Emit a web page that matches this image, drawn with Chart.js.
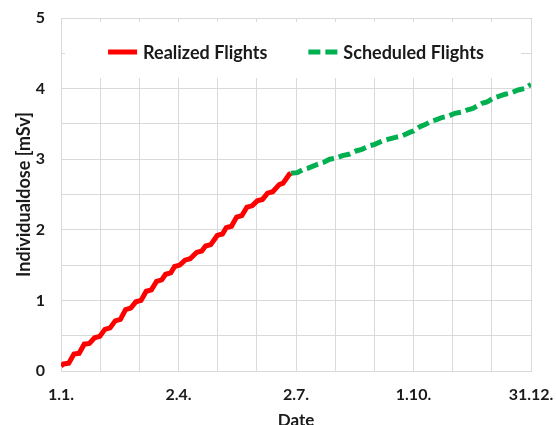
<!DOCTYPE html>
<html lang="en">
<head>
  <meta charset="UTF-8">
  <title>Individualdose</title>
  <script src="https://cdn.jsdelivr.net/npm/chart.js"></script>
  <style>
    html, body { margin: 0; padding: 0; background: #fff; }
    .contenedor { width: 556px; height: 425px; }
  </style>
</head>
<body>
  <div class="contenedor">
    <canvas id="graficoDosis"></canvas>
  </div>

  <script>
    // day of year (0 = 1.1.) and dose in mSv
    const realizedDay = [0, 2, 6, 10, 14, 18, 22, 26, 30, 34, 38, 42, 46, 50, 54, 58, 62, 66, 70, 74, 78,
      81, 85, 88, 92, 96, 100, 105, 109, 112, 116, 121, 125, 128, 132, 136, 140, 144, 148, 152, 156,
      160, 164, 169, 172, 177, 178];
    const realizedDose = [0.07, 0.10, 0.11, 0.24, 0.25, 0.38, 0.39, 0.47, 0.49, 0.59, 0.61, 0.71, 0.73,
      0.87, 0.89, 0.98, 1.00, 1.13, 1.15, 1.27, 1.29, 1.37, 1.39, 1.48, 1.50, 1.57, 1.59, 1.68, 1.70,
      1.77, 1.79, 1.92, 1.94, 2.03, 2.05, 2.18, 2.20, 2.32, 2.34, 2.41, 2.43, 2.52, 2.54, 2.64, 2.66,
      2.79, 2.80];

    const scheduledDay = [178, 183, 187, 191, 199, 204, 208, 212, 218, 223, 229, 233, 239, 243, 249,
      253, 259, 264, 270, 273, 278, 282, 287, 291, 295, 300, 305, 311, 315, 319, 326, 330, 335, 339,
      344, 349, 354, 359, 364];
    const scheduledDose = [2.80, 2.81, 2.85, 2.87, 2.93, 2.96, 3.00, 3.01, 3.05, 3.07, 3.12, 3.14, 3.19,
      3.21, 3.26, 3.28, 3.31, 3.33, 3.38, 3.40, 3.46, 3.49, 3.54, 3.56, 3.59, 3.61, 3.65, 3.67, 3.70,
      3.72, 3.79, 3.81, 3.87, 3.89, 3.92, 3.94, 3.98, 4.00, 4.06];

    const dateLabels = ['1.1.', '2.4.', '2.7.', '1.10.', '31.12.'];
    const seriesNames = ['Realized Flights', 'Scheduled Flights'];

    const fuente = 'Lato, "Open Sans", sans-serif';
    const textoColor = '#1a1a1a';
    const gridColor = '#d9d9d9';
    const lastDay = 364;

    const puntos = (xs, ys) => xs.map((x, i) => ({ x: x, y: ys[i] }));

    // legend drawn inside the plot, on a white box
    const leyendaInterna = {
      id: 'leyendaInterna',
      afterDatasetsDraw(chart) {
        const ctx = chart.ctx;
        const a = chart.chartArea;
        ctx.save();
        ctx.fillStyle = '#fff';
        ctx.fillRect(a.left + 4, a.top + 4, a.right - a.left - 14, 56);

        ctx.font = 'bold 18px ' + fuente;
        const muestra = 29, hueco = 6, entre = 41;
        const items = chart.data.datasets.map(ds => ({ ds: ds, w: ctx.measureText(ds.label).width }));
        const total = items.reduce((s, it) => s + muestra + hueco + it.w, 0) + entre * (items.length - 1);
        let x = (a.left + a.right) / 2 - total / 2;
        const y = a.top + 34;

        items.forEach(it => {
          ctx.beginPath();
          ctx.strokeStyle = it.ds.borderColor;
          ctx.lineWidth = it.ds.borderWidth;
          ctx.setLineDash(it.ds.borderDash || []);
          ctx.moveTo(x, y);
          ctx.lineTo(x + muestra, y);
          ctx.stroke();
          ctx.setLineDash([]);
          x += muestra + hueco;
          ctx.fillStyle = textoColor;
          ctx.textBaseline = 'middle';
          ctx.textAlign = 'left';
          ctx.fillText(it.ds.label, x, y + 1);
          x += it.w + entre;
        });
        ctx.restore();
      }
    };

    const ctx = document.getElementById('graficoDosis').getContext('2d');

    new Chart(ctx, {
      type: 'line',
      data: {
        datasets: [{
          label: seriesNames[0],
          data: puntos(realizedDay, realizedDose),
          borderColor: '#ff0000',
          borderWidth: 5,
          pointRadius: 0,
          tension: 0,
          fill: false
        }, {
          label: seriesNames[1],
          data: puntos(scheduledDay, scheduledDose),
          borderColor: '#00b050',
          borderWidth: 5,
          borderDash: [12, 5],
          pointRadius: 0,
          tension: 0,
          fill: false
        }]
      },
      options: {
        responsive: true,
        maintainAspectRatio: false,
        animation: false,
        layout: { padding: { left: 0, right: 25, top: 18, bottom: 0 } },
        plugins: {
          legend: { display: false },
          tooltip: { enabled: false }
        },
        scales: {
          x: {
            type: 'linear',
            min: 0,
            max: lastDay,
            afterBuildTicks: s => {
              s.ticks = [];
              for (let i = 0; i <= 12; i++) s.ticks.push({ value: lastDay * i / 12 });
            },
            afterFit: s => {
              s.height = 54;
              s.paddingLeft = 0;
              s.paddingRight = 0;
            },
            ticks: {
              autoSkip: false,
              maxRotation: 0,
              padding: 14,
              color: textoColor,
              font: { family: fuente, size: 16, weight: 'bold' },
              callback: (v, i) => (i % 3 === 0 ? dateLabels[i / 3] : '')
            },
            grid: { color: gridColor, drawTicks: false },
            border: { color: gridColor },
            title: {
              display: true,
              text: 'Date',
              color: textoColor,
              padding: { top: 0, bottom: -4 },
              font: { family: fuente, size: 17, weight: 'bold', lineHeight: 1 }
            }
          },
          y: {
            min: 0,
            max: 5,
            afterFit: s => {
              s.width = 61;
              s.paddingTop = 0;
              s.paddingBottom = 0;
            },
            ticks: {
              stepSize: 0.5,
              padding: 16,
              color: textoColor,
              font: { family: fuente, size: 16, weight: 'bold' },
              callback: v => (Number.isInteger(v) ? v : '')
            },
            grid: { color: gridColor, drawTicks: false },
            border: { color: gridColor },
            title: {
              display: true,
              text: 'Individualdose [mSv]',
              color: textoColor,
              padding: { top: 15, bottom: 0 },
              font: { family: fuente, size: 18, weight: 'bold', lineHeight: 1 }
            }
          }
        }
      },
      plugins: [leyendaInterna]
    });
  </script>
</body>
</html>
